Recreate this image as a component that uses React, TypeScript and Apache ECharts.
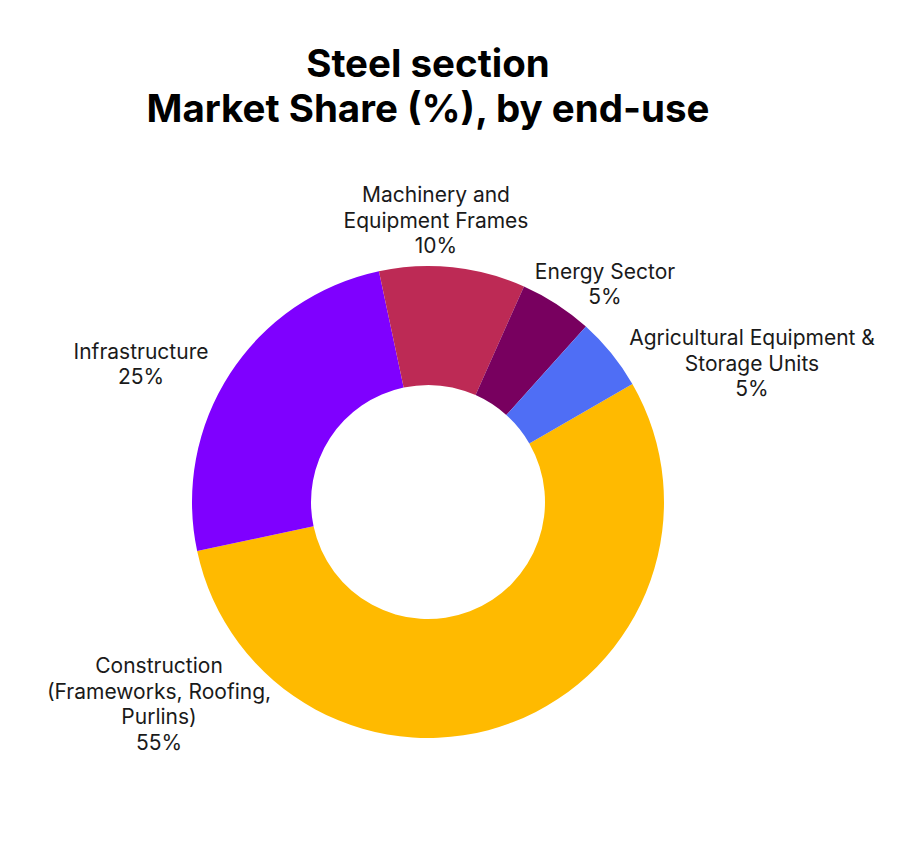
import React, { useEffect, useRef } from "react";
import * as echarts from "echarts";

const titleLines = ["Steel section", "Market Share (%), by end-use"];
const categories = [
  "Construction\n(Frameworks, Roofing,\nPurlins)",
  "Infrastructure",
  "Machinery and\nEquipment Frames",
  "Energy Sector",
  "Agricultural Equipment &\nStorage Units",
];
const shares = [55, 25, 10, 5, 5];
const colors = ["#FFBA00", "#7F00FF", "#BD2A55", "#78005F", "#4F6EF5"];

// label centres (px) in chart coordinates
const labelAnchors: [number, number][] = [
  [159, 704],
  [141, 364],
  [436, 220],
  [605, 284],
  [752, 363],
];

export default function App() {
  const ref = useRef<HTMLDivElement>(null);
  useEffect(() => {
    document.body.style.margin = "0";
    document.body.style.background = "#ffffff";
    const chart = echarts.init(ref.current!, undefined, { renderer: "svg" });
    chart.setOption({
      animation: false,
      backgroundColor: "#ffffff",
      title: {
        text: titleLines.join("\n"),
        left: 428,
        textAlign: "center",
        top: 40,
        padding: 0,
        textStyle: {
          fontFamily: "Inter",
          fontWeight: "bold",
          fontSize: 38.5,
          lineHeight: 45,
          color: "#000000",
        },
      },
      series: [
        {
          type: "pie",
          center: [428, 502],
          radius: [117, 236],
          startAngle: 30,
          clockwise: true,
          avoidLabelOverlap: false,
          data: categories.map((name, i) => ({
            name,
            value: shares[i],
            itemStyle: { color: colors[i] },
          })),
          itemStyle: { borderWidth: 0 },
          label: {
            show: true,
            position: "outside",
            formatter: "{b}\n{c}%",
            fontFamily: "Inter",
            fontSize: 21,
            lineHeight: 25.5,
            color: "#1a1a1a",
            align: "center",
          },
          labelLine: { show: false },
          labelLayout: (params: any) => {
            const p = labelAnchors[params.dataIndex];
            return { x: p[0], y: p[1], align: "center", verticalAlign: "middle" };
          },
          emphasis: { disabled: true },
        },
      ],
    });
    return () => chart.dispose();
  }, []);
  return <div ref={ref} style={{ width: 924, height: 844 }} />;
}
